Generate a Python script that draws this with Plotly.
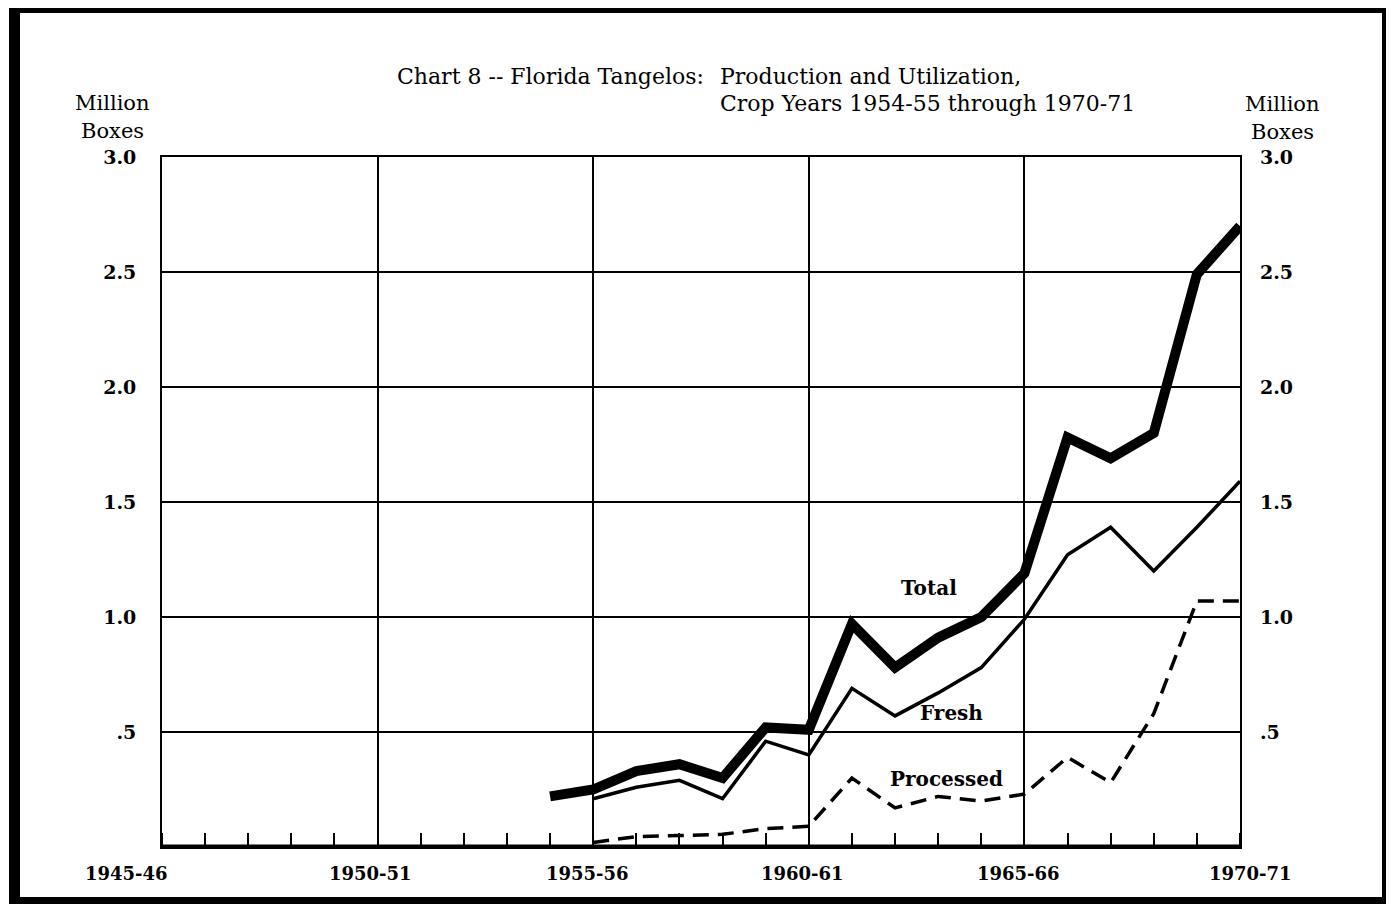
import plotly.graph_objects as go

# ---- data (million boxes) ----
years_total = [1954, 1955, 1956, 1957, 1958, 1959, 1960, 1961, 1962, 1963, 1964, 1965, 1966, 1967, 1968, 1969, 1970]
total = [0.22, 0.25, 0.33, 0.36, 0.30, 0.52, 0.51, 0.97, 0.78, 0.91, 1.00, 1.19, 1.78, 1.69, 1.80, 2.49, 2.70]

years_fresh = [1955, 1956, 1957, 1958, 1959, 1960, 1961, 1962, 1963, 1964, 1965, 1966, 1967, 1968, 1969, 1970]
fresh = [0.21, 0.26, 0.29, 0.21, 0.46, 0.40, 0.69, 0.57, 0.67, 0.78, 0.99, 1.27, 1.39, 1.20, 1.39, 1.59]

years_proc = [1955, 1956, 1957, 1958, 1959, 1960, 1961, 1962, 1963, 1964, 1965, 1966, 1967, 1968, 1969, 1970]
processed = [0.02, 0.045, 0.05, 0.055, 0.08, 0.09, 0.30, 0.17, 0.22, 0.20, 0.23, 0.39, 0.28, 0.58, 1.07, 1.07]

x_tickvals = [1945, 1950, 1955, 1960, 1965, 1970]
x_ticktext = ["1945-46", "1950-51", "1955-56", "1960-61", "1965-66", "1970-71"]
y_tickvals = [0.5, 1.0, 1.5, 2.0, 2.5, 3.0]
y_ticktext = [".5", "1.0", "1.5", "2.0", "2.5", "3.0"]

X0, X1 = 1945, 1970

# page body has an 8px margin: work in screen coordinates, shifted by OX/OY
OX, OY = 8, 8
W, H = 1394 - OX, 904 - OY
PL, PR, PT, PB = 162, 1240, 157, 847   # plot area in screen px
L, R, T, B = PL - OX, W - (PR - OX), PT - OY, H - (PB - OY)
PW, PH = W - L - R, H - T - B


def px(x):
    return (x - OX - L) / PW


def py(y):
    return (H - B - (y - OY)) / PH


FONT = "DejaVu Serif"

fig = go.Figure()
fig.add_trace(go.Scatter(x=years_total, y=total, mode="lines",
                         line=dict(color="black", width=10), showlegend=False, hoverinfo="skip"))
fig.add_trace(go.Scatter(x=years_fresh, y=fresh, mode="lines",
                         line=dict(color="black", width=3.5), showlegend=False, hoverinfo="skip"))
fig.add_trace(go.Scatter(x=years_proc, y=processed, mode="lines",
                         line=dict(color="black", width=3.5, dash="16px,9px"), showlegend=False, hoverinfo="skip"))
# invisible trace for right axis
fig.add_trace(go.Scatter(x=[X0, X1], y=[0, 3], yaxis="y2", mode="lines",
                         line=dict(color="rgba(0,0,0,0)"), showlegend=False, hoverinfo="skip"))

xtickfont = dict(family=FONT, size=18, color="black", weight="bold")
ytickfont = dict(family=FONT, size=19, color="black", weight="bold")

fig.update_layout(
    width=W, height=H,
    margin=dict(l=L, r=R, t=T, b=B, pad=0),
    paper_bgcolor="white", plot_bgcolor="white",
    xaxis=dict(range=[X0, X1], tickvals=x_tickvals, showticklabels=False,
               showgrid=True, gridcolor="black", gridwidth=1.6,
               showline=True, linecolor="black", linewidth=1.8, mirror=True,
               ticks="", zeroline=False,
               minor=dict(dtick=1, tick0=X0, ticks="inside", ticklen=14, tickwidth=2,
                          tickcolor="black", showgrid=False)),
    yaxis=dict(range=[0, 3], tickvals=y_tickvals, ticktext=y_ticktext,
               showgrid=True, gridcolor="black", gridwidth=1.6,
               showline=True, linecolor="black", linewidth=1.8, mirror=True,
               ticks="", ticklabelstandoff=20, tickfont=ytickfont, zeroline=False),
    yaxis2=dict(range=[0, 3], tickvals=y_tickvals, ticktext=y_ticktext, overlaying="y",
                side="right", showgrid=False, showline=False, ticks="", zeroline=False,
                ticklabelstandoff=19, tickfont=ytickfont),
)

# thick baseline
fig.add_shape(type="line", xref="x", yref="y", x0=X0, x1=X1, y0=0, y1=0,
              line=dict(color="black", width=5))

# outer frame (screen px)
for (x0, y0, x1, y1) in [(9, 7, 20, 904), (9, 7, 1394, 13), (1382, 7, 1394, 904), (9, 897, 1394, 904)]:
    fig.add_shape(type="rect", xref="paper", yref="paper",
                  x0=px(x0), x1=px(x1), y0=py(y1), y1=py(y0),
                  fillcolor="black", line=dict(width=0), layer="above")

ann = []
# x-axis year labels (slightly offset from the gridlines as in the original)
label_shift = [-36, -7, -6, -6, -6, 10]
for v, t, s in zip(x_tickvals, x_ticktext, label_shift):
    ann.append(dict(text=t, x=(v - X0) / (X1 - X0), y=py(873), xref="paper", yref="paper",
                    xshift=s, xanchor="center", yanchor="middle", showarrow=False, font=xtickfont))

title_font = dict(family=FONT, size=22, color="black")
unit_font = dict(family=FONT, size=21, color="black")
hdr = [
    ("Chart 8 -- Florida Tangelos:", px(706), py(77), "right", title_font),
    ("Production and Utilization,", px(718), py(77), "left", title_font),
    ("Crop Years 1954-55 through 1970-71", px(718), py(103), "left", title_font),
    ("Million", px(112), py(103), "center", unit_font),
    ("Boxes", px(112), py(131), "center", unit_font),
    ("Million", px(1282), py(104), "center", unit_font),
    ("Boxes", px(1282), py(132), "center", unit_font),
]
for t, xx, yy, xa, f in hdr:
    ann.append(dict(text=t, x=xx, y=yy, xref="paper", yref="paper", xanchor=xa,
                    yanchor="middle", showarrow=False, font=f))

series_labels = [("Total", 1962.78, 1.125), ("Fresh", 1963.31, 0.584), ("Processed", 1963.2, 0.297)]
for name, xv, yv in series_labels:
    ann.append(dict(text=name, x=xv, y=yv, xref="x", yref="y", showarrow=False,
                    xanchor="center", yanchor="middle",
                    font=dict(family=FONT, size=20, color="black", weight="bold")))

fig.update_layout(annotations=ann)

fig.write_html("out.html")
